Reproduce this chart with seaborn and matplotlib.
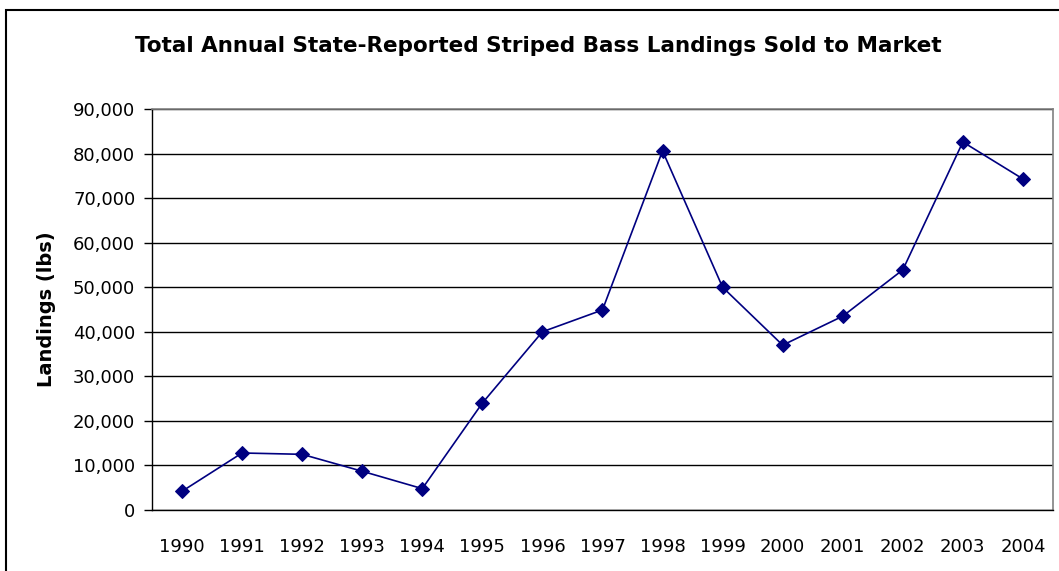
import numpy as np
import pandas as pd
import matplotlib
matplotlib.use('Agg')
import matplotlib.pyplot as plt
import seaborn as sns
from matplotlib.patches import Rectangle
from matplotlib.ticker import FuncFormatter

# Datos
years = [1990, 1991, 1992, 1993, 1994, 1995, 1996, 1997, 1998, 1999,
         2000, 2001, 2002, 2003, 2004]
landings = [4200, 12800, 12500, 8700, 4800, 24000, 40000, 44900, 80600, 50000,
            37000, 43500, 53900, 82600, 74300]

df = pd.DataFrame({'pos': np.arange(len(years)), 'landings': landings})

sns.set_style('white')
plt.rcParams['font.family'] = ['DejaVu Sans']
plt.rcParams['text.color'] = 'black'
plt.rcParams['axes.labelcolor'] = 'black'
plt.rcParams['xtick.color'] = 'black'
plt.rcParams['ytick.color'] = 'black'

fig = plt.figure(figsize=(10.59, 5.71), dpi=100)
ax = fig.add_axes([0.1435, 0.1068, 0.8508, 0.7023])

sns.lineplot(data=df, x='pos', y='landings', ax=ax, color='#000080',
             marker='D', markersize=7, markeredgecolor='#000080', linewidth=1.2)

ax.set_xlim(-0.5, len(years) - 0.5)
ax.set_ylim(0, 90000)
ax.set_yticks(np.arange(0, 90001, 10000))
ax.yaxis.set_major_formatter(FuncFormatter(lambda v, p: f'{int(v):,}'))
ax.grid(axis='y', color='black', linewidth=1)
ax.set_axisbelow(True)

# ticks entre categorías, etiquetas en el centro
ax.set_xticks(np.arange(-0.5, len(years), 1.0))
ax.set_xticklabels([])
ax.set_xticks(np.arange(len(years)), minor=True)
ax.set_xticklabels([str(y) for y in years], minor=True)
ax.tick_params(axis='x', which='major', direction='out', length=6, width=1, color='black')
ax.tick_params(axis='x', which='minor', length=0, pad=20, labelsize=13, labelcolor='black')
ax.tick_params(axis='y', direction='out', length=6, width=1, color='black',
               labelsize=13, pad=6, left=True, labelcolor='black')

for side in ['left', 'bottom']:
    ax.spines[side].set_color('black')
    ax.spines[side].set_linewidth(1)
for side in ['top', 'right']:
    ax.spines[side].set_color('#808080')
    ax.spines[side].set_linewidth(1.2)

ax.set_xlabel('')
ax.set_ylabel('Landings (lbs)', fontsize=14, fontweight='bold', labelpad=12, color='black')

fig.text(0.508, 0.92, 'Total Annual State-Reported Striped Bass Landings Sold to Market',
         ha='center', va='center', fontsize=15.5, fontweight='bold', color='black')

# marco del gráfico
fig.patches.append(Rectangle((6 / 1059, -0.05), 1.2, 1.05 - 10 / 571,
                             transform=fig.transFigure, fill=False,
                             edgecolor='black', linewidth=1.5))

fig.savefig('out.png', dpi=100)
